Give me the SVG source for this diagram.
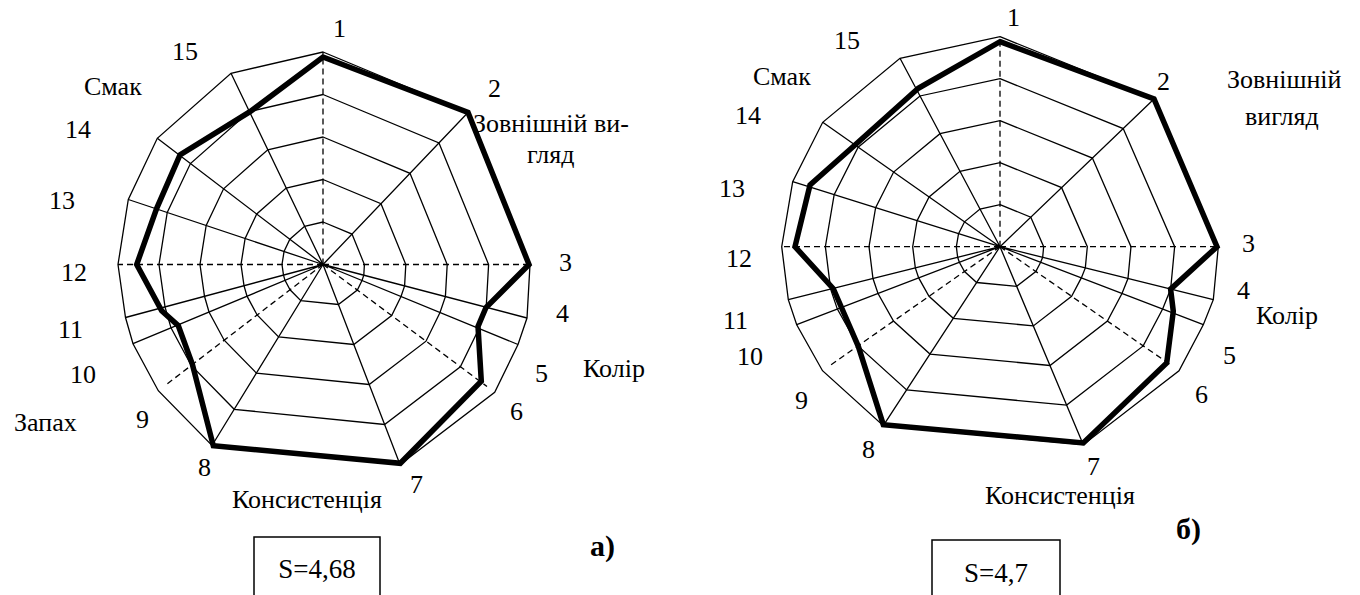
<svg xmlns="http://www.w3.org/2000/svg" xmlns:xlink="http://www.w3.org/1999/xlink" width="1360" height="595" viewBox="0 0 1360 595">
<style>
.grid{fill:none;stroke:#000;stroke-width:1.3;vector-effect:non-scaling-stroke}
.spoke{stroke:#000;stroke-width:1.3;fill:none}
.dash{stroke:#000;stroke-width:1.3;stroke-dasharray:6 4;fill:none}
.data{fill:none;stroke:#000;stroke-width:5.5;stroke-linejoin:miter;stroke-miterlimit:10}
text{font-family:"Liberation Serif","Times New Roman",serif;font-size:26px;fill:#000}
.tag{font-weight:bold;font-size:30px}
.box{fill:#fff;stroke:#000;stroke-width:1.5}
</style>
<defs>
<polygon id="ringA" class="grid" points="0,-212.5 145,-152 207,0 204,53.5 195,80 171.7,127.8 77,200 -111,181 -164.7,126.2 -190,79.2 -197.5,53 -205,0 -194.7,-65 -165.7,-126.2 -92,-191.2"/>
<polygon id="ringB" class="grid" points="0,-210 154,-147.7 218.3,0 213.3,53 203.3,78 179,124 83.3,198 -116.7,179 -177.5,124 -203.3,78 -211.7,53 -218.3,0 -207.3,-65 -177.3,-124.4 -100,-188.4"/>
</defs>
<rect width="1360" height="595" fill="#fff"/>

<g id="chart-a" transform="translate(323,264.5)">
  <g id="chart-a-rings">
    <use xlink:href="#ringA"/>
    <use xlink:href="#ringA" transform="scale(0.8)"/>
    <use xlink:href="#ringA" transform="scale(0.6)"/>
    <use xlink:href="#ringA" transform="scale(0.4)"/>
    <use xlink:href="#ringA" transform="scale(0.2)"/>
  </g>
  <g id="chart-a-axes">
    <path class="spoke" d="M0,0L145,-152M0,0L204,53.5M0,0L195,80M0,0L77,200M0,0L-111,181M0,0L-190,79.2M0,0L-197.5,53M0,0L-194.7,-65M0,0L-165.7,-126.2M0,0L-92,-191.2"/>
    <path class="dash" d="M0,0L0,-212.5M0,0L207,0M0,0L-205,0M0,0L164,122M0,0L-157.3,120.5"/>
  </g>
  <polygon id="chart-a-data" class="data" points="0,-207.5 145,-152 206,0 163,43 155,62 158.3,116.8 77.3,198.8 -109.7,181.2 -130.7,99.5 -144.7,61.2 -161.3,46.2 -186.3,0 -166.3,-56.2 -143,-109.5 -73,-152.8"/>
</g>

<g id="chart-a-labels">
  <text x="333" y="37">1</text>
  <text x="488" y="97">2</text>
  <text x="559" y="271">3</text>
  <text x="556" y="322">4</text>
  <text x="535" y="382">5</text>
  <text x="510" y="420">6</text>
  <text x="410" y="493">7</text>
  <text x="198" y="476">8</text>
  <text x="136" y="428">9</text>
  <text x="70" y="383">10</text>
  <text x="58" y="338">11</text>
  <text x="61" y="281">12</text>
  <text x="49" y="209">13</text>
  <text x="65" y="138">14</text>
  <text x="172" y="60">15</text>
  <text x="84" y="95">Смак</text>
  <text x="473" y="132">Зовнішній ви-</text>
  <text x="527" y="163">гляд</text>
  <text x="583" y="377">Колір</text>
  <text x="14" y="431">Запах</text>
  <text x="232" y="508">Консистенція</text>
  <text class="tag" x="590" y="556">а)</text>
</g>
<g id="box-a">
  <rect class="box" x="254" y="537" width="126" height="70"/>
  <text x="317" y="578" text-anchor="middle" style="font-size:27px">S=4,68</text>
</g>

<g id="chart-b" transform="translate(1000,246.7)">
  <g id="chart-b-rings">
    <use xlink:href="#ringB"/>
    <use xlink:href="#ringB" transform="scale(0.8)"/>
    <use xlink:href="#ringB" transform="scale(0.6)"/>
    <use xlink:href="#ringB" transform="scale(0.4)"/>
    <use xlink:href="#ringB" transform="scale(0.2)"/>
  </g>
  <g id="chart-b-axes">
    <path class="spoke" d="M0,0L154,-147.7M0,0L213.3,53M0,0L203.3,78M0,0L83.3,198M0,0L-116.7,179M0,0L-203.3,78M0,0L-211.7,53M0,0L-207.3,-65M0,0L-177.3,-124.4M0,0L-100,-188.4"/>
    <path class="dash" d="M0,0L0,-210M0,0L218.3,0M0,0L-218.3,0M0,0L171,118.4M0,0L-169.5,118.4"/>
  </g>
  <polygon id="chart-b-data" class="data" points="0,-205 154,-147.7 217,0 170.6,42.4 173.3,64.6 166.7,116.3 83.3,196.3 -116.7,178 -141.7,99.6 -158.3,61.3 -166.7,42 -205,0 -190,-61.7 -145,-101.7 -81.7,-158.4"/>
</g>

<g id="chart-b-labels">
  <text x="1007" y="26">1</text>
  <text x="1157" y="90">2</text>
  <text x="1242" y="252">3</text>
  <text x="1237" y="299">4</text>
  <text x="1223" y="364">5</text>
  <text x="1195" y="403">6</text>
  <text x="1087" y="475">7</text>
  <text x="862" y="458">8</text>
  <text x="795" y="409">9</text>
  <text x="737" y="365">10</text>
  <text x="723" y="329">11</text>
  <text x="726" y="267">12</text>
  <text x="719" y="197">13</text>
  <text x="735" y="124">14</text>
  <text x="834" y="49">15</text>
  <text x="753" y="85">Смак</text>
  <text x="1227" y="88">Зовнішній</text>
  <text x="1245" y="125">вигляд</text>
  <text x="1256" y="324">Колір</text>
  <text x="985" y="504">Консистенція</text>
  <text class="tag" x="1176" y="539">б)</text>
</g>
<g id="box-b">
  <rect class="box" x="932" y="540" width="128" height="70"/>
  <text x="996" y="582" text-anchor="middle" style="font-size:27px">S=4,7</text>
</g>
</svg>
